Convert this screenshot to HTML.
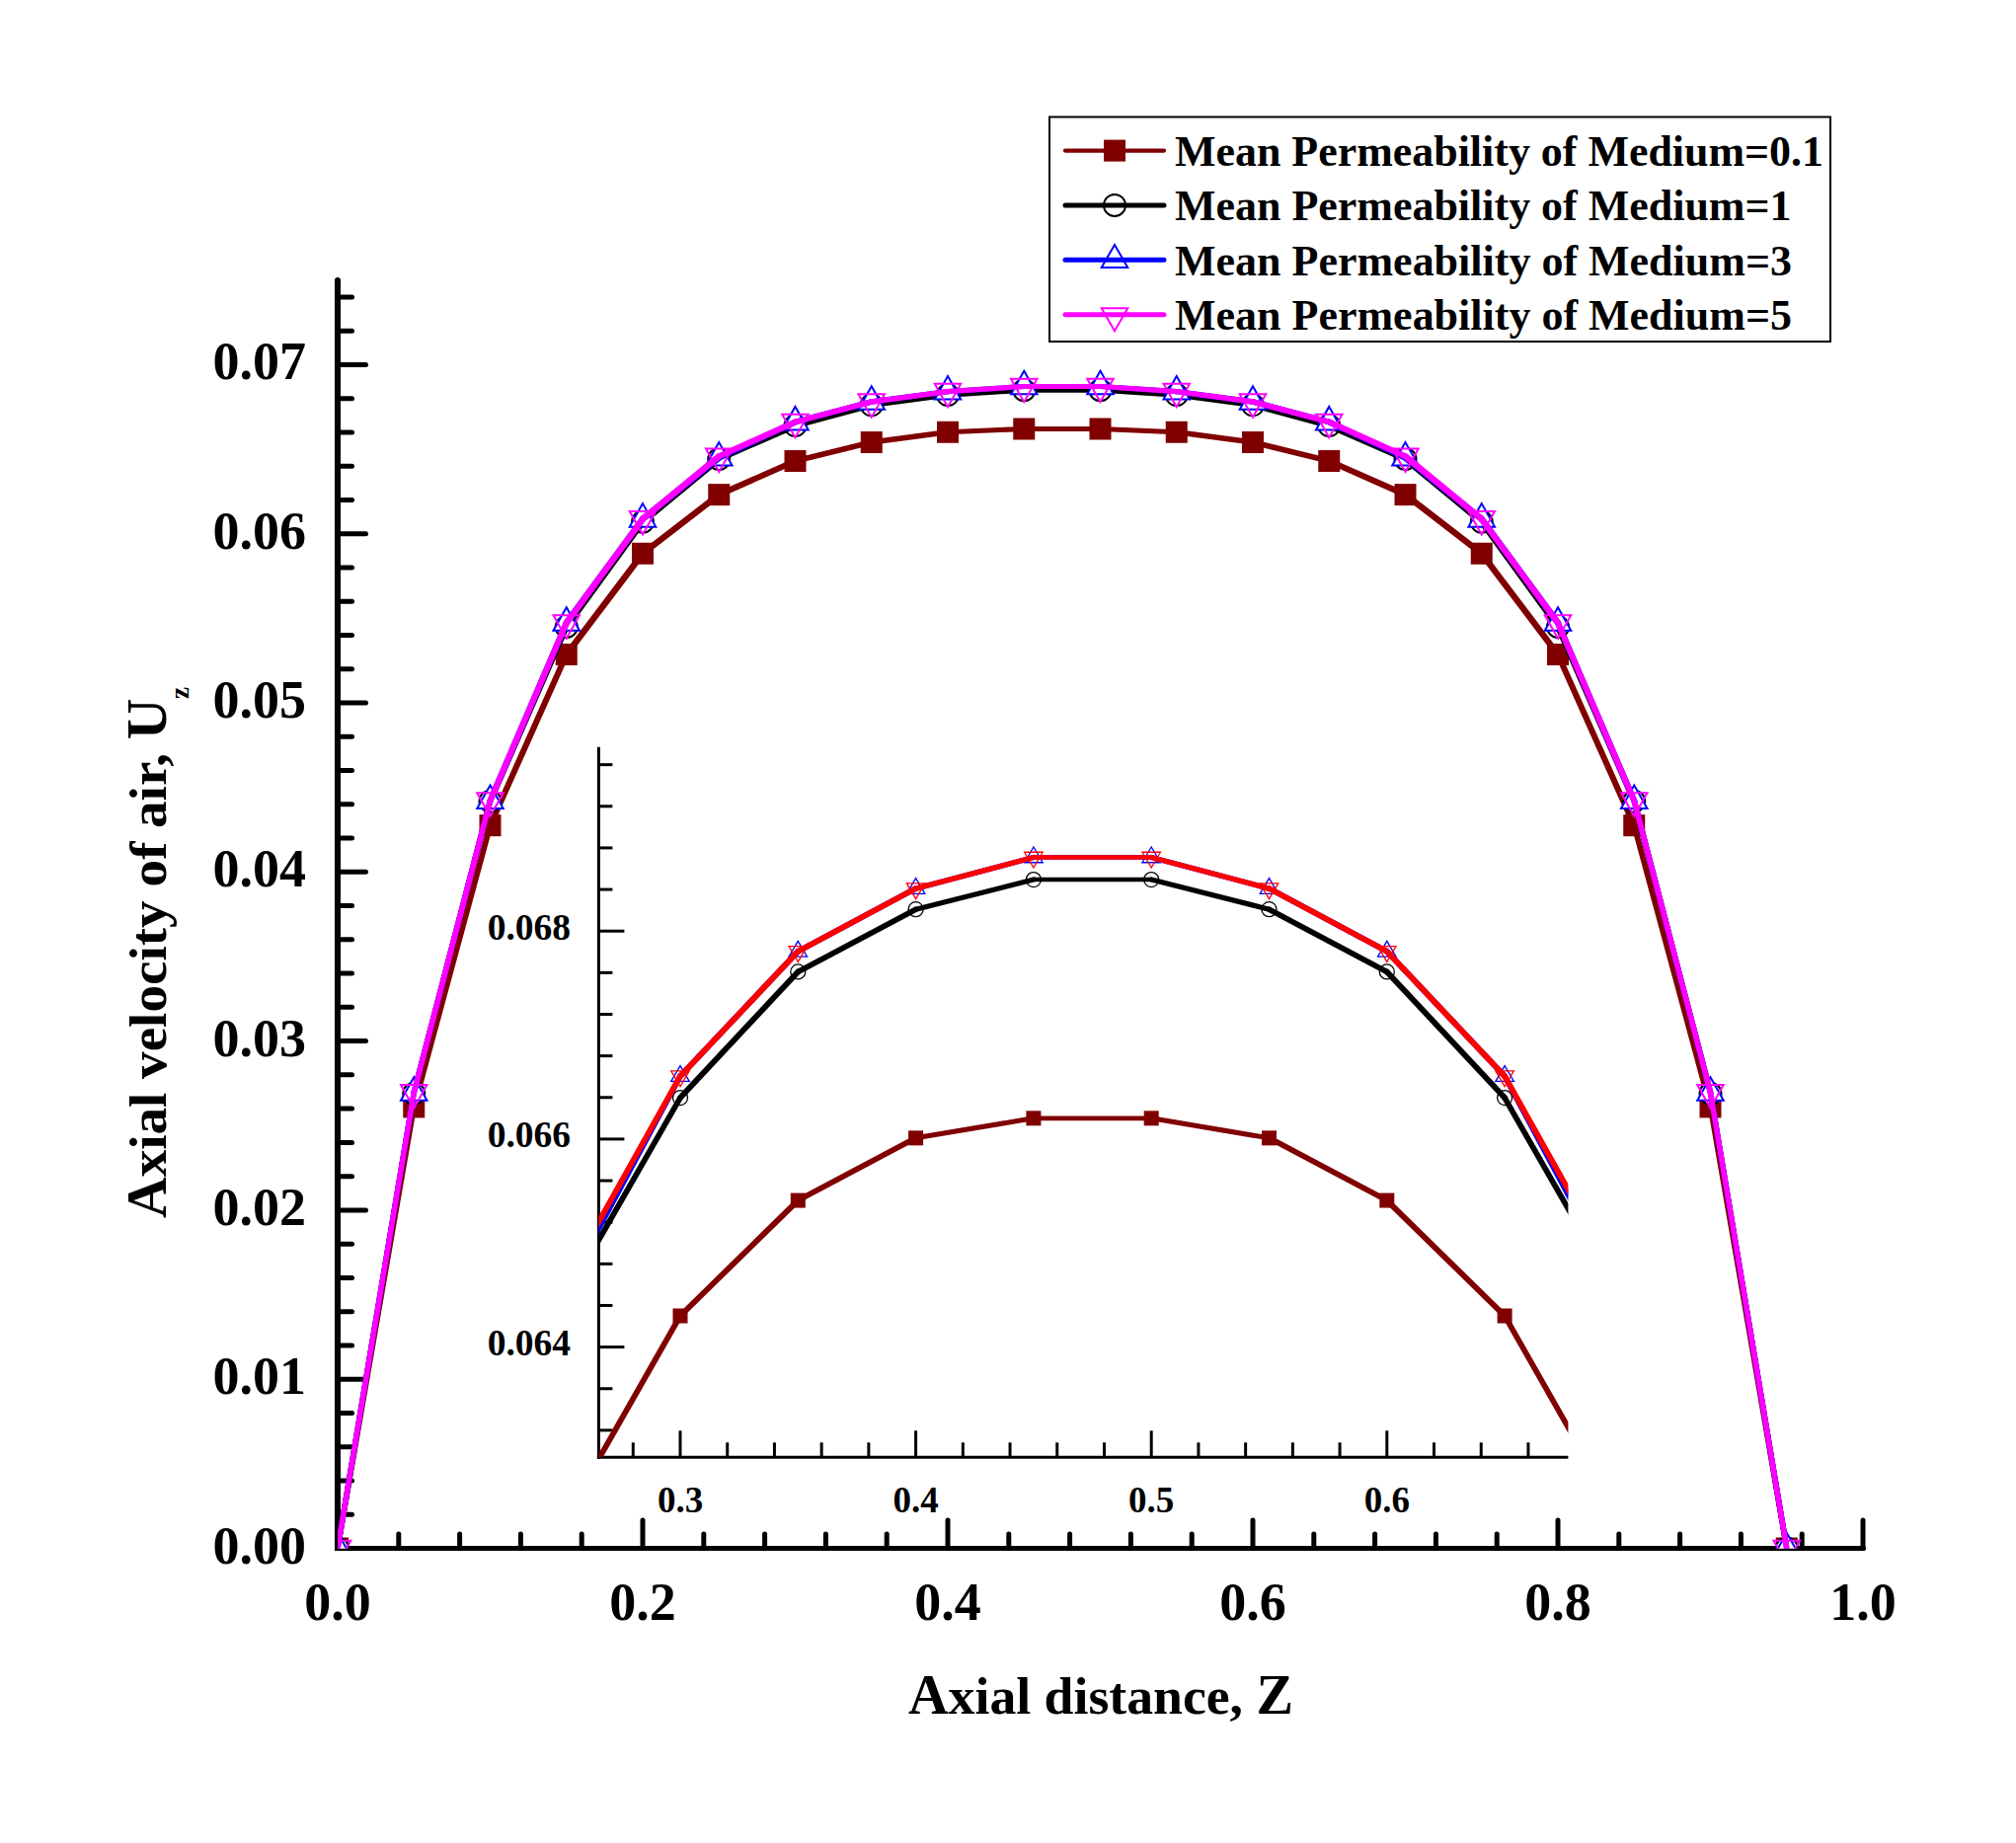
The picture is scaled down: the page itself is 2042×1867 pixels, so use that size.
<!DOCTYPE html>
<html><head><meta charset="utf-8"><title>Axial velocity chart</title>
<style>html,body{margin:0;padding:0;background:#fff;width:2042px;height:1867px;overflow:hidden}svg{display:block}</style>
</head><body>
<svg width="2042" height="1867" viewBox="0 0 2042 1867"><g stroke="#000" stroke-linecap="round">
<line x1="342.0" y1="284" x2="342.0" y2="1571.0" stroke-width="6" stroke-linecap="butt"/>
<circle cx="342.0" cy="284" r="3" fill="#000" stroke="none"/>
<line x1="342.0" y1="1568.5" x2="1887.5" y2="1568.5" stroke-width="5"/>
<line x1="342.0" y1="1568.50" x2="370.5" y2="1568.50" stroke-width="5"/>
<line x1="342.0" y1="1534.24" x2="356.5" y2="1534.24" stroke-width="5"/>
<line x1="342.0" y1="1499.98" x2="356.5" y2="1499.98" stroke-width="5"/>
<line x1="342.0" y1="1465.72" x2="356.5" y2="1465.72" stroke-width="5"/>
<line x1="342.0" y1="1431.46" x2="356.5" y2="1431.46" stroke-width="5"/>
<line x1="342.0" y1="1397.20" x2="370.5" y2="1397.20" stroke-width="5"/>
<line x1="342.0" y1="1362.94" x2="356.5" y2="1362.94" stroke-width="5"/>
<line x1="342.0" y1="1328.68" x2="356.5" y2="1328.68" stroke-width="5"/>
<line x1="342.0" y1="1294.42" x2="356.5" y2="1294.42" stroke-width="5"/>
<line x1="342.0" y1="1260.16" x2="356.5" y2="1260.16" stroke-width="5"/>
<line x1="342.0" y1="1225.90" x2="370.5" y2="1225.90" stroke-width="5"/>
<line x1="342.0" y1="1191.64" x2="356.5" y2="1191.64" stroke-width="5"/>
<line x1="342.0" y1="1157.38" x2="356.5" y2="1157.38" stroke-width="5"/>
<line x1="342.0" y1="1123.12" x2="356.5" y2="1123.12" stroke-width="5"/>
<line x1="342.0" y1="1088.86" x2="356.5" y2="1088.86" stroke-width="5"/>
<line x1="342.0" y1="1054.60" x2="370.5" y2="1054.60" stroke-width="5"/>
<line x1="342.0" y1="1020.34" x2="356.5" y2="1020.34" stroke-width="5"/>
<line x1="342.0" y1="986.08" x2="356.5" y2="986.08" stroke-width="5"/>
<line x1="342.0" y1="951.82" x2="356.5" y2="951.82" stroke-width="5"/>
<line x1="342.0" y1="917.56" x2="356.5" y2="917.56" stroke-width="5"/>
<line x1="342.0" y1="883.30" x2="370.5" y2="883.30" stroke-width="5"/>
<line x1="342.0" y1="849.04" x2="356.5" y2="849.04" stroke-width="5"/>
<line x1="342.0" y1="814.78" x2="356.5" y2="814.78" stroke-width="5"/>
<line x1="342.0" y1="780.52" x2="356.5" y2="780.52" stroke-width="5"/>
<line x1="342.0" y1="746.26" x2="356.5" y2="746.26" stroke-width="5"/>
<line x1="342.0" y1="712.00" x2="370.5" y2="712.00" stroke-width="5"/>
<line x1="342.0" y1="677.74" x2="356.5" y2="677.74" stroke-width="5"/>
<line x1="342.0" y1="643.48" x2="356.5" y2="643.48" stroke-width="5"/>
<line x1="342.0" y1="609.22" x2="356.5" y2="609.22" stroke-width="5"/>
<line x1="342.0" y1="574.96" x2="356.5" y2="574.96" stroke-width="5"/>
<line x1="342.0" y1="540.70" x2="370.5" y2="540.70" stroke-width="5"/>
<line x1="342.0" y1="506.44" x2="356.5" y2="506.44" stroke-width="5"/>
<line x1="342.0" y1="472.18" x2="356.5" y2="472.18" stroke-width="5"/>
<line x1="342.0" y1="437.92" x2="356.5" y2="437.92" stroke-width="5"/>
<line x1="342.0" y1="403.66" x2="356.5" y2="403.66" stroke-width="5"/>
<line x1="342.0" y1="369.40" x2="370.5" y2="369.40" stroke-width="5"/>
<line x1="342.0" y1="335.14" x2="356.5" y2="335.14" stroke-width="5"/>
<line x1="342.0" y1="300.88" x2="356.5" y2="300.88" stroke-width="5"/>
<line x1="342.00" y1="1568.5" x2="342.00" y2="1540.0" stroke-width="5"/>
<line x1="403.80" y1="1568.5" x2="403.80" y2="1554.0" stroke-width="5"/>
<line x1="465.60" y1="1568.5" x2="465.60" y2="1554.0" stroke-width="5"/>
<line x1="527.40" y1="1568.5" x2="527.40" y2="1554.0" stroke-width="5"/>
<line x1="589.20" y1="1568.5" x2="589.20" y2="1554.0" stroke-width="5"/>
<line x1="651.00" y1="1568.5" x2="651.00" y2="1540.0" stroke-width="5"/>
<line x1="712.80" y1="1568.5" x2="712.80" y2="1554.0" stroke-width="5"/>
<line x1="774.60" y1="1568.5" x2="774.60" y2="1554.0" stroke-width="5"/>
<line x1="836.40" y1="1568.5" x2="836.40" y2="1554.0" stroke-width="5"/>
<line x1="898.20" y1="1568.5" x2="898.20" y2="1554.0" stroke-width="5"/>
<line x1="960.00" y1="1568.5" x2="960.00" y2="1540.0" stroke-width="5"/>
<line x1="1021.80" y1="1568.5" x2="1021.80" y2="1554.0" stroke-width="5"/>
<line x1="1083.60" y1="1568.5" x2="1083.60" y2="1554.0" stroke-width="5"/>
<line x1="1145.40" y1="1568.5" x2="1145.40" y2="1554.0" stroke-width="5"/>
<line x1="1207.20" y1="1568.5" x2="1207.20" y2="1554.0" stroke-width="5"/>
<line x1="1269.00" y1="1568.5" x2="1269.00" y2="1540.0" stroke-width="5"/>
<line x1="1330.80" y1="1568.5" x2="1330.80" y2="1554.0" stroke-width="5"/>
<line x1="1392.60" y1="1568.5" x2="1392.60" y2="1554.0" stroke-width="5"/>
<line x1="1454.40" y1="1568.5" x2="1454.40" y2="1554.0" stroke-width="5"/>
<line x1="1516.20" y1="1568.5" x2="1516.20" y2="1554.0" stroke-width="5"/>
<line x1="1578.00" y1="1568.5" x2="1578.00" y2="1540.0" stroke-width="5"/>
<line x1="1639.80" y1="1568.5" x2="1639.80" y2="1554.0" stroke-width="5"/>
<line x1="1701.60" y1="1568.5" x2="1701.60" y2="1554.0" stroke-width="5"/>
<line x1="1763.40" y1="1568.5" x2="1763.40" y2="1554.0" stroke-width="5"/>
<line x1="1825.20" y1="1568.5" x2="1825.20" y2="1554.0" stroke-width="5"/>
<line x1="1887.00" y1="1568.5" x2="1887.00" y2="1540.0" stroke-width="5"/>
</g>
<g font-family='"Liberation Serif", serif' font-weight="bold" fill="#000">
<text x="310" y="1583.5" font-size="54" text-anchor="end">0.00</text>
<text x="310" y="1412.2" font-size="54" text-anchor="end">0.01</text>
<text x="310" y="1240.9" font-size="54" text-anchor="end">0.02</text>
<text x="310" y="1069.6" font-size="54" text-anchor="end">0.03</text>
<text x="310" y="898.3" font-size="54" text-anchor="end">0.04</text>
<text x="310" y="727.0" font-size="54" text-anchor="end">0.05</text>
<text x="310" y="555.7" font-size="54" text-anchor="end">0.06</text>
<text x="310" y="384.4" font-size="54" text-anchor="end">0.07</text>
<text x="342.0" y="1641" font-size="54" text-anchor="middle">0.0</text>
<text x="651.0" y="1641" font-size="54" text-anchor="middle">0.2</text>
<text x="960.0" y="1641" font-size="54" text-anchor="middle">0.4</text>
<text x="1269.0" y="1641" font-size="54" text-anchor="middle">0.6</text>
<text x="1578.0" y="1641" font-size="54" text-anchor="middle">0.8</text>
<text x="1887.0" y="1641" font-size="54" text-anchor="middle">1.0</text>
<text x="920" y="1736" font-size="53.5" textLength="390" lengthAdjust="spacingAndGlyphs"><tspan font-size="56">A</tspan>xial distance, <tspan font-size="56">Z</tspan></text>
<g transform="translate(168,1234) rotate(-90)"><text x="0" y="0" font-size="53.5" textLength="526.5" lengthAdjust="spacingAndGlyphs"><tspan font-size="56">A</tspan>xial velocity of air, <tspan font-size="56">U</tspan></text><text x="526" y="23" font-size="27">z</text></g>
</g>
<defs><clipPath id="mc"><rect x="342.0" y="0" width="1600" height="1568.5"/></clipPath></defs>
<g clip-path="url(#mc)">
<rect x="331.00" y="1557.50" width="22" height="22" fill="#800000"/>
<rect x="408.25" y="1110.41" width="22" height="22" fill="#800000"/>
<rect x="485.50" y="825.19" width="22" height="22" fill="#800000"/>
<rect x="562.75" y="652.01" width="22" height="22" fill="#800000"/>
<rect x="640.00" y="549.74" width="22" height="22" fill="#800000"/>
<rect x="717.25" y="490.13" width="22" height="22" fill="#800000"/>
<rect x="794.50" y="456.04" width="22" height="22" fill="#800000"/>
<rect x="871.75" y="437.03" width="22" height="22" fill="#800000"/>
<rect x="949.00" y="426.75" width="22" height="22" fill="#800000"/>
<rect x="1026.25" y="423.49" width="22" height="22" fill="#800000"/>
<rect x="1103.50" y="423.49" width="22" height="22" fill="#800000"/>
<rect x="1180.75" y="426.75" width="22" height="22" fill="#800000"/>
<rect x="1258.00" y="437.03" width="22" height="22" fill="#800000"/>
<rect x="1335.25" y="456.04" width="22" height="22" fill="#800000"/>
<rect x="1412.50" y="490.13" width="22" height="22" fill="#800000"/>
<rect x="1489.75" y="549.74" width="22" height="22" fill="#800000"/>
<rect x="1567.00" y="652.01" width="22" height="22" fill="#800000"/>
<rect x="1644.25" y="825.19" width="22" height="22" fill="#800000"/>
<rect x="1721.50" y="1110.41" width="22" height="22" fill="#800000"/>
<rect x="1798.75" y="1557.50" width="22" height="22" fill="#800000"/>
<g stroke="#800000" stroke-linecap="round" ><line x1="342.00" y1="1568.50" x2="419.25" y2="1121.41" stroke-width="5.53"/><line x1="419.25" y1="1121.41" x2="496.50" y2="836.19" stroke-width="5.77"/><line x1="496.50" y1="836.19" x2="573.75" y2="663.01" stroke-width="6.07"/><line x1="573.75" y1="663.01" x2="651.00" y2="560.74" stroke-width="6.33"/><line x1="651.00" y1="560.74" x2="728.25" y2="501.13" stroke-width="6.34"/><line x1="728.25" y1="501.13" x2="805.50" y2="467.04" stroke-width="6.07"/><line x1="805.50" y1="467.04" x2="882.75" y2="448.03" stroke-width="5.71"/><line x1="882.75" y1="448.03" x2="960.00" y2="437.75" stroke-width="5.42"/><line x1="960.00" y1="437.75" x2="1037.25" y2="434.49" stroke-width="5.14"/><line x1="1037.25" y1="434.49" x2="1114.50" y2="434.49" stroke-width="5.00"/><line x1="1114.50" y1="434.49" x2="1191.75" y2="437.75" stroke-width="5.14"/><line x1="1191.75" y1="437.75" x2="1269.00" y2="448.03" stroke-width="5.42"/><line x1="1269.00" y1="448.03" x2="1346.25" y2="467.04" stroke-width="5.71"/><line x1="1346.25" y1="467.04" x2="1423.50" y2="501.13" stroke-width="6.07"/><line x1="1423.50" y1="501.13" x2="1500.75" y2="560.74" stroke-width="6.34"/><line x1="1500.75" y1="560.74" x2="1578.00" y2="663.01" stroke-width="6.33"/><line x1="1578.00" y1="663.01" x2="1655.25" y2="836.19" stroke-width="6.07"/><line x1="1655.25" y1="836.19" x2="1732.50" y2="1121.41" stroke-width="5.77"/><line x1="1732.50" y1="1121.41" x2="1809.75" y2="1568.50" stroke-width="5.53"/></g>
<circle cx="342.00" cy="1568.50" r="11" fill="#fff" stroke="#000" stroke-width="2"/>
<circle cx="419.25" cy="1107.70" r="11" fill="#fff" stroke="#000" stroke-width="2"/>
<circle cx="496.50" cy="811.70" r="11" fill="#fff" stroke="#000" stroke-width="2"/>
<circle cx="573.75" cy="634.91" r="11" fill="#fff" stroke="#000" stroke-width="2"/>
<circle cx="651.00" cy="528.71" r="11" fill="#fff" stroke="#000" stroke-width="2"/>
<circle cx="728.25" cy="464.99" r="11" fill="#fff" stroke="#000" stroke-width="2"/>
<circle cx="805.50" cy="431.12" r="11" fill="#fff" stroke="#000" stroke-width="2"/>
<circle cx="882.75" cy="410.36" r="11" fill="#fff" stroke="#000" stroke-width="2"/>
<circle cx="960.00" cy="400.08" r="11" fill="#fff" stroke="#000" stroke-width="2"/>
<circle cx="1037.25" cy="395.18" r="11" fill="#fff" stroke="#000" stroke-width="2"/>
<circle cx="1114.50" cy="395.18" r="11" fill="#fff" stroke="#000" stroke-width="2"/>
<circle cx="1191.75" cy="400.08" r="11" fill="#fff" stroke="#000" stroke-width="2"/>
<circle cx="1269.00" cy="410.36" r="11" fill="#fff" stroke="#000" stroke-width="2"/>
<circle cx="1346.25" cy="431.12" r="11" fill="#fff" stroke="#000" stroke-width="2"/>
<circle cx="1423.50" cy="464.99" r="11" fill="#fff" stroke="#000" stroke-width="2"/>
<circle cx="1500.75" cy="528.71" r="11" fill="#fff" stroke="#000" stroke-width="2"/>
<circle cx="1578.00" cy="634.91" r="11" fill="#fff" stroke="#000" stroke-width="2"/>
<circle cx="1655.25" cy="811.70" r="11" fill="#fff" stroke="#000" stroke-width="2"/>
<circle cx="1732.50" cy="1107.70" r="11" fill="#fff" stroke="#000" stroke-width="2"/>
<circle cx="1809.75" cy="1568.50" r="11" fill="#fff" stroke="#000" stroke-width="2"/>
<g stroke="#000" stroke-linecap="round" ><line x1="342.00" y1="1568.50" x2="419.25" y2="1107.70" stroke-width="5.52"/><line x1="419.25" y1="1107.70" x2="496.50" y2="811.70" stroke-width="5.75"/><line x1="496.50" y1="811.70" x2="573.75" y2="634.91" stroke-width="6.06"/><line x1="573.75" y1="634.91" x2="651.00" y2="528.71" stroke-width="6.32"/><line x1="651.00" y1="528.71" x2="728.25" y2="464.99" stroke-width="6.35"/><line x1="728.25" y1="464.99" x2="805.50" y2="431.12" stroke-width="6.06"/><line x1="805.50" y1="431.12" x2="882.75" y2="410.36" stroke-width="5.76"/><line x1="882.75" y1="410.36" x2="960.00" y2="400.08" stroke-width="5.42"/><line x1="960.00" y1="400.08" x2="1037.25" y2="395.18" stroke-width="5.21"/><line x1="1037.25" y1="395.18" x2="1114.50" y2="395.18" stroke-width="5.00"/><line x1="1114.50" y1="395.18" x2="1191.75" y2="400.08" stroke-width="5.21"/><line x1="1191.75" y1="400.08" x2="1269.00" y2="410.36" stroke-width="5.42"/><line x1="1269.00" y1="410.36" x2="1346.25" y2="431.12" stroke-width="5.76"/><line x1="1346.25" y1="431.12" x2="1423.50" y2="464.99" stroke-width="6.06"/><line x1="1423.50" y1="464.99" x2="1500.75" y2="528.71" stroke-width="6.35"/><line x1="1500.75" y1="528.71" x2="1578.00" y2="634.91" stroke-width="6.32"/><line x1="1578.00" y1="634.91" x2="1655.25" y2="811.70" stroke-width="6.06"/><line x1="1655.25" y1="811.70" x2="1732.50" y2="1107.70" stroke-width="5.75"/><line x1="1732.50" y1="1107.70" x2="1809.75" y2="1568.50" stroke-width="5.52"/></g>
<path d="M342.00 1552.83L355.25 1576.33L328.75 1576.33Z" fill="#fff" stroke="#0000ff" stroke-width="2" stroke-linejoin="miter"/>
<path d="M419.25 1091.18L432.50 1114.68L406.00 1114.68Z" fill="#fff" stroke="#0000ff" stroke-width="2" stroke-linejoin="miter"/>
<path d="M496.50 795.52L509.75 819.02L483.25 819.02Z" fill="#fff" stroke="#0000ff" stroke-width="2" stroke-linejoin="miter"/>
<path d="M573.75 615.31L587.00 638.81L560.50 638.81Z" fill="#fff" stroke="#0000ff" stroke-width="2" stroke-linejoin="miter"/>
<path d="M651.00 510.13L664.25 533.63L637.75 533.63Z" fill="#fff" stroke="#0000ff" stroke-width="2" stroke-linejoin="miter"/>
<path d="M728.25 448.12L741.50 471.62L715.00 471.62Z" fill="#fff" stroke="#0000ff" stroke-width="2" stroke-linejoin="miter"/>
<path d="M805.50 411.89L818.75 435.39L792.25 435.39Z" fill="#fff" stroke="#0000ff" stroke-width="2" stroke-linejoin="miter"/>
<path d="M882.75 391.35L896.00 414.85L869.50 414.85Z" fill="#fff" stroke="#0000ff" stroke-width="2" stroke-linejoin="miter"/>
<path d="M960.00 380.99L973.25 404.49L946.75 404.49Z" fill="#fff" stroke="#0000ff" stroke-width="2" stroke-linejoin="miter"/>
<path d="M1037.25 375.85L1050.50 399.35L1024.00 399.35Z" fill="#fff" stroke="#0000ff" stroke-width="2" stroke-linejoin="miter"/>
<path d="M1114.50 375.85L1127.75 399.35L1101.25 399.35Z" fill="#fff" stroke="#0000ff" stroke-width="2" stroke-linejoin="miter"/>
<path d="M1191.75 380.99L1205.00 404.49L1178.50 404.49Z" fill="#fff" stroke="#0000ff" stroke-width="2" stroke-linejoin="miter"/>
<path d="M1269.00 391.35L1282.25 414.85L1255.75 414.85Z" fill="#fff" stroke="#0000ff" stroke-width="2" stroke-linejoin="miter"/>
<path d="M1346.25 411.89L1359.50 435.39L1333.00 435.39Z" fill="#fff" stroke="#0000ff" stroke-width="2" stroke-linejoin="miter"/>
<path d="M1423.50 448.12L1436.75 471.62L1410.25 471.62Z" fill="#fff" stroke="#0000ff" stroke-width="2" stroke-linejoin="miter"/>
<path d="M1500.75 510.13L1514.00 533.63L1487.50 533.63Z" fill="#fff" stroke="#0000ff" stroke-width="2" stroke-linejoin="miter"/>
<path d="M1578.00 615.31L1591.25 638.81L1564.75 638.81Z" fill="#fff" stroke="#0000ff" stroke-width="2" stroke-linejoin="miter"/>
<path d="M1655.25 795.52L1668.50 819.02L1642.00 819.02Z" fill="#fff" stroke="#0000ff" stroke-width="2" stroke-linejoin="miter"/>
<path d="M1732.50 1091.18L1745.75 1114.68L1719.25 1114.68Z" fill="#fff" stroke="#0000ff" stroke-width="2" stroke-linejoin="miter"/>
<path d="M1809.75 1552.83L1823.00 1576.33L1796.50 1576.33Z" fill="#fff" stroke="#0000ff" stroke-width="2" stroke-linejoin="miter"/>
<g stroke="#0000ff" stroke-linecap="round" ><line x1="342.00" y1="1568.50" x2="419.25" y2="1106.85" stroke-width="5.52"/><line x1="419.25" y1="1106.85" x2="496.50" y2="811.18" stroke-width="5.75"/><line x1="496.50" y1="811.18" x2="573.75" y2="630.98" stroke-width="6.05"/><line x1="573.75" y1="630.98" x2="651.00" y2="525.80" stroke-width="6.32"/><line x1="651.00" y1="525.80" x2="728.25" y2="463.79" stroke-width="6.35"/><line x1="728.25" y1="463.79" x2="805.50" y2="427.56" stroke-width="6.10"/><line x1="805.50" y1="427.56" x2="882.75" y2="407.02" stroke-width="5.76"/><line x1="882.75" y1="407.02" x2="960.00" y2="396.65" stroke-width="5.43"/><line x1="960.00" y1="396.65" x2="1037.25" y2="391.51" stroke-width="5.22"/><line x1="1037.25" y1="391.51" x2="1114.50" y2="391.51" stroke-width="5.00"/><line x1="1114.50" y1="391.51" x2="1191.75" y2="396.65" stroke-width="5.22"/><line x1="1191.75" y1="396.65" x2="1269.00" y2="407.02" stroke-width="5.43"/><line x1="1269.00" y1="407.02" x2="1346.25" y2="427.56" stroke-width="5.76"/><line x1="1346.25" y1="427.56" x2="1423.50" y2="463.79" stroke-width="6.10"/><line x1="1423.50" y1="463.79" x2="1500.75" y2="525.80" stroke-width="6.35"/><line x1="1500.75" y1="525.80" x2="1578.00" y2="630.98" stroke-width="6.32"/><line x1="1578.00" y1="630.98" x2="1655.25" y2="811.18" stroke-width="6.05"/><line x1="1655.25" y1="811.18" x2="1732.50" y2="1106.85" stroke-width="5.75"/><line x1="1732.50" y1="1106.85" x2="1809.75" y2="1568.50" stroke-width="5.52"/></g>
<path d="M328.75 1560.67L355.25 1560.67L342.00 1584.17Z" fill="none" stroke="#ff00ff" stroke-width="2" stroke-linejoin="miter"/>
<path d="M406.00 1099.01L432.50 1099.01L419.25 1122.51Z" fill="none" stroke="#ff00ff" stroke-width="2" stroke-linejoin="miter"/>
<path d="M483.25 803.35L509.75 803.35L496.50 826.85Z" fill="none" stroke="#ff00ff" stroke-width="2" stroke-linejoin="miter"/>
<path d="M560.50 623.31L587.00 623.31L573.75 646.81Z" fill="none" stroke="#ff00ff" stroke-width="2" stroke-linejoin="miter"/>
<path d="M637.75 517.96L664.25 517.96L651.00 541.46Z" fill="none" stroke="#ff00ff" stroke-width="2" stroke-linejoin="miter"/>
<path d="M715.00 454.41L741.50 454.41L728.25 477.91Z" fill="none" stroke="#ff00ff" stroke-width="2" stroke-linejoin="miter"/>
<path d="M792.25 419.72L818.75 419.72L805.50 443.22Z" fill="none" stroke="#ff00ff" stroke-width="2" stroke-linejoin="miter"/>
<path d="M869.50 399.18L896.00 399.18L882.75 422.68Z" fill="none" stroke="#ff00ff" stroke-width="2" stroke-linejoin="miter"/>
<path d="M946.75 388.82L973.25 388.82L960.00 412.32Z" fill="none" stroke="#ff00ff" stroke-width="2" stroke-linejoin="miter"/>
<path d="M1024.00 383.68L1050.50 383.68L1037.25 407.18Z" fill="none" stroke="#ff00ff" stroke-width="2" stroke-linejoin="miter"/>
<path d="M1101.25 383.68L1127.75 383.68L1114.50 407.18Z" fill="none" stroke="#ff00ff" stroke-width="2" stroke-linejoin="miter"/>
<path d="M1178.50 388.82L1205.00 388.82L1191.75 412.32Z" fill="none" stroke="#ff00ff" stroke-width="2" stroke-linejoin="miter"/>
<path d="M1255.75 399.18L1282.25 399.18L1269.00 422.68Z" fill="none" stroke="#ff00ff" stroke-width="2" stroke-linejoin="miter"/>
<path d="M1333.00 419.72L1359.50 419.72L1346.25 443.22Z" fill="none" stroke="#ff00ff" stroke-width="2" stroke-linejoin="miter"/>
<path d="M1410.25 454.41L1436.75 454.41L1423.50 477.91Z" fill="none" stroke="#ff00ff" stroke-width="2" stroke-linejoin="miter"/>
<path d="M1487.50 517.96L1514.00 517.96L1500.75 541.46Z" fill="none" stroke="#ff00ff" stroke-width="2" stroke-linejoin="miter"/>
<path d="M1564.75 623.31L1591.25 623.31L1578.00 646.81Z" fill="none" stroke="#ff00ff" stroke-width="2" stroke-linejoin="miter"/>
<path d="M1642.00 803.35L1668.50 803.35L1655.25 826.85Z" fill="none" stroke="#ff00ff" stroke-width="2" stroke-linejoin="miter"/>
<path d="M1719.25 1099.01L1745.75 1099.01L1732.50 1122.51Z" fill="none" stroke="#ff00ff" stroke-width="2" stroke-linejoin="miter"/>
<path d="M1796.50 1560.67L1823.00 1560.67L1809.75 1584.17Z" fill="none" stroke="#ff00ff" stroke-width="2" stroke-linejoin="miter"/>
<g stroke="#ff00ff" stroke-linecap="round" ><line x1="342.00" y1="1568.50" x2="419.25" y2="1106.85" stroke-width="5.52"/><line x1="419.25" y1="1106.85" x2="496.50" y2="811.18" stroke-width="5.75"/><line x1="496.50" y1="811.18" x2="573.75" y2="631.15" stroke-width="6.05"/><line x1="573.75" y1="631.15" x2="651.00" y2="525.80" stroke-width="6.32"/><line x1="651.00" y1="525.80" x2="728.25" y2="462.24" stroke-width="6.35"/><line x1="728.25" y1="462.24" x2="805.50" y2="427.56" stroke-width="6.08"/><line x1="805.50" y1="427.56" x2="882.75" y2="407.02" stroke-width="5.76"/><line x1="882.75" y1="407.02" x2="960.00" y2="396.65" stroke-width="5.43"/><line x1="960.00" y1="396.65" x2="1037.25" y2="391.51" stroke-width="5.22"/><line x1="1037.25" y1="391.51" x2="1114.50" y2="391.51" stroke-width="5.00"/><line x1="1114.50" y1="391.51" x2="1191.75" y2="396.65" stroke-width="5.22"/><line x1="1191.75" y1="396.65" x2="1269.00" y2="407.02" stroke-width="5.43"/><line x1="1269.00" y1="407.02" x2="1346.25" y2="427.56" stroke-width="5.76"/><line x1="1346.25" y1="427.56" x2="1423.50" y2="462.24" stroke-width="6.08"/><line x1="1423.50" y1="462.24" x2="1500.75" y2="525.80" stroke-width="6.35"/><line x1="1500.75" y1="525.80" x2="1578.00" y2="631.15" stroke-width="6.32"/><line x1="1578.00" y1="631.15" x2="1655.25" y2="811.18" stroke-width="6.05"/><line x1="1655.25" y1="811.18" x2="1732.50" y2="1106.85" stroke-width="5.75"/><line x1="1732.50" y1="1106.85" x2="1809.75" y2="1568.50" stroke-width="5.52"/></g>
</g>
<g stroke="#000">
<line x1="606.4" y1="756.8" x2="606.4" y2="1477.8" stroke-width="3"/>
<line x1="604.9" y1="1476.3" x2="1588.4" y2="1476.3" stroke-width="3"/>
<line x1="606.4" y1="1448.88" x2="620.4" y2="1448.88" stroke-width="3"/>
<line x1="606.4" y1="1406.74" x2="620.4" y2="1406.74" stroke-width="3"/>
<line x1="606.4" y1="1364.60" x2="632.4" y2="1364.60" stroke-width="3"/>
<line x1="606.4" y1="1322.46" x2="620.4" y2="1322.46" stroke-width="3"/>
<line x1="606.4" y1="1280.32" x2="620.4" y2="1280.32" stroke-width="3"/>
<line x1="606.4" y1="1238.18" x2="620.4" y2="1238.18" stroke-width="3"/>
<line x1="606.4" y1="1196.04" x2="620.4" y2="1196.04" stroke-width="3"/>
<line x1="606.4" y1="1153.90" x2="632.4" y2="1153.90" stroke-width="3"/>
<line x1="606.4" y1="1111.76" x2="620.4" y2="1111.76" stroke-width="3"/>
<line x1="606.4" y1="1069.62" x2="620.4" y2="1069.62" stroke-width="3"/>
<line x1="606.4" y1="1027.48" x2="620.4" y2="1027.48" stroke-width="3"/>
<line x1="606.4" y1="985.34" x2="620.4" y2="985.34" stroke-width="3"/>
<line x1="606.4" y1="943.20" x2="632.4" y2="943.20" stroke-width="3"/>
<line x1="606.4" y1="901.06" x2="620.4" y2="901.06" stroke-width="3"/>
<line x1="606.4" y1="858.92" x2="620.4" y2="858.92" stroke-width="3"/>
<line x1="606.4" y1="816.78" x2="620.4" y2="816.78" stroke-width="3"/>
<line x1="606.4" y1="774.64" x2="620.4" y2="774.64" stroke-width="3"/>
<line x1="641.28" y1="1476.3" x2="641.28" y2="1461.3" stroke-width="3"/>
<line x1="689.00" y1="1476.3" x2="689.00" y2="1449.3" stroke-width="3"/>
<line x1="736.72" y1="1476.3" x2="736.72" y2="1461.3" stroke-width="3"/>
<line x1="784.44" y1="1476.3" x2="784.44" y2="1461.3" stroke-width="3"/>
<line x1="832.16" y1="1476.3" x2="832.16" y2="1461.3" stroke-width="3"/>
<line x1="879.88" y1="1476.3" x2="879.88" y2="1461.3" stroke-width="3"/>
<line x1="927.60" y1="1476.3" x2="927.60" y2="1449.3" stroke-width="3"/>
<line x1="975.32" y1="1476.3" x2="975.32" y2="1461.3" stroke-width="3"/>
<line x1="1023.04" y1="1476.3" x2="1023.04" y2="1461.3" stroke-width="3"/>
<line x1="1070.76" y1="1476.3" x2="1070.76" y2="1461.3" stroke-width="3"/>
<line x1="1118.48" y1="1476.3" x2="1118.48" y2="1461.3" stroke-width="3"/>
<line x1="1166.20" y1="1476.3" x2="1166.20" y2="1449.3" stroke-width="3"/>
<line x1="1213.92" y1="1476.3" x2="1213.92" y2="1461.3" stroke-width="3"/>
<line x1="1261.64" y1="1476.3" x2="1261.64" y2="1461.3" stroke-width="3"/>
<line x1="1309.36" y1="1476.3" x2="1309.36" y2="1461.3" stroke-width="3"/>
<line x1="1357.08" y1="1476.3" x2="1357.08" y2="1461.3" stroke-width="3"/>
<line x1="1404.80" y1="1476.3" x2="1404.80" y2="1449.3" stroke-width="3"/>
<line x1="1452.52" y1="1476.3" x2="1452.52" y2="1461.3" stroke-width="3"/>
<line x1="1500.24" y1="1476.3" x2="1500.24" y2="1461.3" stroke-width="3"/>
<line x1="1547.96" y1="1476.3" x2="1547.96" y2="1461.3" stroke-width="3"/>
</g>
<defs><clipPath id="ic"><rect x="606.4" y="756.8" width="982.0" height="719.5"/></clipPath></defs>
<g clip-path="url(#ic)">
<rect x="681.50" y="1325.50" width="15" height="15" fill="#800000"/>
<rect x="800.80" y="1208.56" width="15" height="15" fill="#800000"/>
<rect x="920.10" y="1145.35" width="15" height="15" fill="#800000"/>
<rect x="1039.40" y="1125.33" width="15" height="15" fill="#800000"/>
<rect x="1158.70" y="1125.33" width="15" height="15" fill="#800000"/>
<rect x="1278.00" y="1145.35" width="15" height="15" fill="#800000"/>
<rect x="1397.30" y="1208.56" width="15" height="15" fill="#800000"/>
<rect x="1516.60" y="1325.50" width="15" height="15" fill="#800000"/>
<g stroke="#800000" stroke-linecap="round" ><line x1="-26.80" y1="8107.00" x2="92.50" y2="5357.36" stroke-width="4.74"/><line x1="92.50" y1="5357.36" x2="211.80" y2="3603.29" stroke-width="4.81"/><line x1="211.80" y1="3603.29" x2="331.10" y2="2538.20" stroke-width="4.93"/><line x1="331.10" y1="2538.20" x2="450.40" y2="1909.26" stroke-width="5.13"/><line x1="450.40" y1="1909.26" x2="569.70" y2="1542.64" stroke-width="5.41"/><line x1="569.70" y1="1542.64" x2="689.00" y2="1333.00" stroke-width="5.72"/><line x1="689.00" y1="1333.00" x2="808.30" y2="1216.06" stroke-width="5.86"/><line x1="808.30" y1="1216.06" x2="927.60" y2="1152.85" stroke-width="5.68"/><line x1="927.60" y1="1152.85" x2="1046.90" y2="1132.83" stroke-width="5.08"/><line x1="1046.90" y1="1132.83" x2="1166.20" y2="1132.83" stroke-width="4.60"/><line x1="1166.20" y1="1132.83" x2="1285.50" y2="1152.85" stroke-width="5.08"/><line x1="1285.50" y1="1152.85" x2="1404.80" y2="1216.06" stroke-width="5.68"/><line x1="1404.80" y1="1216.06" x2="1524.10" y2="1333.00" stroke-width="5.86"/><line x1="1524.10" y1="1333.00" x2="1643.40" y2="1542.64" stroke-width="5.72"/><line x1="1643.40" y1="1542.64" x2="1762.70" y2="1909.26" stroke-width="5.41"/><line x1="1762.70" y1="1909.26" x2="1882.00" y2="2538.20" stroke-width="5.13"/><line x1="1882.00" y1="2538.20" x2="2001.30" y2="3603.29" stroke-width="4.93"/><line x1="2001.30" y1="3603.29" x2="2120.60" y2="5357.36" stroke-width="4.81"/><line x1="2120.60" y1="5357.36" x2="2239.90" y2="8107.00" stroke-width="4.74"/></g>
<circle cx="689.00" cy="1112.08" r="7.5" fill="#fff" stroke="#000" stroke-width="1.3"/>
<circle cx="808.30" cy="984.39" r="7.5" fill="#fff" stroke="#000" stroke-width="1.3"/>
<circle cx="927.60" cy="921.18" r="7.5" fill="#fff" stroke="#000" stroke-width="1.3"/>
<circle cx="1046.90" cy="891.05" r="7.5" fill="#fff" stroke="#000" stroke-width="1.3"/>
<circle cx="1166.20" cy="891.05" r="7.5" fill="#fff" stroke="#000" stroke-width="1.3"/>
<circle cx="1285.50" cy="921.18" r="7.5" fill="#fff" stroke="#000" stroke-width="1.3"/>
<circle cx="1404.80" cy="984.39" r="7.5" fill="#fff" stroke="#000" stroke-width="1.3"/>
<circle cx="1524.10" cy="1112.08" r="7.5" fill="#fff" stroke="#000" stroke-width="1.3"/>
<g stroke="#000" stroke-linecap="round" ><line x1="-26.80" y1="8107.00" x2="92.50" y2="5273.09" stroke-width="4.73"/><line x1="92.50" y1="5273.09" x2="211.80" y2="3452.64" stroke-width="4.80"/><line x1="211.80" y1="3452.64" x2="331.10" y2="2365.43" stroke-width="4.93"/><line x1="331.10" y1="2365.43" x2="450.40" y2="1712.26" stroke-width="5.11"/><line x1="450.40" y1="1712.26" x2="569.70" y2="1320.35" stroke-width="5.37"/><line x1="569.70" y1="1320.35" x2="689.00" y2="1112.08" stroke-width="5.72"/><line x1="689.00" y1="1112.08" x2="808.30" y2="984.39" stroke-width="5.86"/><line x1="808.30" y1="984.39" x2="927.60" y2="921.18" stroke-width="5.68"/><line x1="927.60" y1="921.18" x2="1046.90" y2="891.05" stroke-width="5.27"/><line x1="1046.90" y1="891.05" x2="1166.20" y2="891.05" stroke-width="4.60"/><line x1="1166.20" y1="891.05" x2="1285.50" y2="921.18" stroke-width="5.27"/><line x1="1285.50" y1="921.18" x2="1404.80" y2="984.39" stroke-width="5.68"/><line x1="1404.80" y1="984.39" x2="1524.10" y2="1112.08" stroke-width="5.86"/><line x1="1524.10" y1="1112.08" x2="1643.40" y2="1320.35" stroke-width="5.72"/><line x1="1643.40" y1="1320.35" x2="1762.70" y2="1712.26" stroke-width="5.37"/><line x1="1762.70" y1="1712.26" x2="1882.00" y2="2365.43" stroke-width="5.11"/><line x1="1882.00" y1="2365.43" x2="2001.30" y2="3452.64" stroke-width="4.93"/><line x1="2001.30" y1="3452.64" x2="2120.60" y2="5273.09" stroke-width="4.80"/><line x1="2120.60" y1="5273.09" x2="2239.90" y2="8107.00" stroke-width="4.73"/></g>
<path d="M689.00 1079.63L698.25 1095.43L679.75 1095.43Z" fill="#fff" stroke="#0000ff" stroke-width="1.3" stroke-linejoin="miter"/>
<path d="M808.30 953.32L817.55 969.12L799.05 969.12Z" fill="#fff" stroke="#0000ff" stroke-width="1.3" stroke-linejoin="miter"/>
<path d="M927.60 889.58L936.85 905.38L918.35 905.38Z" fill="#fff" stroke="#0000ff" stroke-width="1.3" stroke-linejoin="miter"/>
<path d="M1046.90 857.97L1056.15 873.77L1037.65 873.77Z" fill="#fff" stroke="#0000ff" stroke-width="1.3" stroke-linejoin="miter"/>
<path d="M1166.20 857.97L1175.45 873.77L1156.95 873.77Z" fill="#fff" stroke="#0000ff" stroke-width="1.3" stroke-linejoin="miter"/>
<path d="M1285.50 889.58L1294.75 905.38L1276.25 905.38Z" fill="#fff" stroke="#0000ff" stroke-width="1.3" stroke-linejoin="miter"/>
<path d="M1404.80 953.32L1414.05 969.12L1395.55 969.12Z" fill="#fff" stroke="#0000ff" stroke-width="1.3" stroke-linejoin="miter"/>
<path d="M1524.10 1079.63L1533.35 1095.43L1514.85 1095.43Z" fill="#fff" stroke="#0000ff" stroke-width="1.3" stroke-linejoin="miter"/>
<g stroke="#0000ff" stroke-linecap="round" ><line x1="-26.80" y1="8107.00" x2="92.50" y2="5267.82" stroke-width="4.73"/><line x1="92.50" y1="5267.82" x2="211.80" y2="3449.48" stroke-width="4.80"/><line x1="211.80" y1="3449.48" x2="331.10" y2="2341.19" stroke-width="4.92"/><line x1="331.10" y1="2341.19" x2="450.40" y2="1694.35" stroke-width="5.12"/><line x1="450.40" y1="1694.35" x2="569.70" y2="1312.98" stroke-width="5.39"/><line x1="569.70" y1="1312.98" x2="689.00" y2="1090.16" stroke-width="5.69"/><line x1="689.00" y1="1090.16" x2="808.30" y2="963.85" stroke-width="5.86"/><line x1="808.30" y1="963.85" x2="927.60" y2="900.11" stroke-width="5.68"/><line x1="927.60" y1="900.11" x2="1046.90" y2="868.51" stroke-width="5.30"/><line x1="1046.90" y1="868.51" x2="1166.20" y2="868.51" stroke-width="4.60"/><line x1="1166.20" y1="868.51" x2="1285.50" y2="900.11" stroke-width="5.30"/><line x1="1285.50" y1="900.11" x2="1404.80" y2="963.85" stroke-width="5.68"/><line x1="1404.80" y1="963.85" x2="1524.10" y2="1090.16" stroke-width="5.86"/><line x1="1524.10" y1="1090.16" x2="1643.40" y2="1312.98" stroke-width="5.69"/><line x1="1643.40" y1="1312.98" x2="1762.70" y2="1694.35" stroke-width="5.39"/><line x1="1762.70" y1="1694.35" x2="1882.00" y2="2341.19" stroke-width="5.12"/><line x1="1882.00" y1="2341.19" x2="2001.30" y2="3449.48" stroke-width="4.92"/><line x1="2001.30" y1="3449.48" x2="2120.60" y2="5267.82" stroke-width="4.80"/><line x1="2120.60" y1="5267.82" x2="2239.90" y2="8107.00" stroke-width="4.73"/></g>
<path d="M679.75 1084.90L698.25 1084.90L689.00 1100.70Z" fill="none" stroke="#ff0000" stroke-width="1.3" stroke-linejoin="miter"/>
<path d="M799.05 958.58L817.55 958.58L808.30 974.38Z" fill="none" stroke="#ff0000" stroke-width="1.3" stroke-linejoin="miter"/>
<path d="M918.35 894.85L936.85 894.85L927.60 910.65Z" fill="none" stroke="#ff0000" stroke-width="1.3" stroke-linejoin="miter"/>
<path d="M1037.65 863.24L1056.15 863.24L1046.90 879.04Z" fill="none" stroke="#ff0000" stroke-width="1.3" stroke-linejoin="miter"/>
<path d="M1156.95 863.24L1175.45 863.24L1166.20 879.04Z" fill="none" stroke="#ff0000" stroke-width="1.3" stroke-linejoin="miter"/>
<path d="M1276.25 894.85L1294.75 894.85L1285.50 910.65Z" fill="none" stroke="#ff0000" stroke-width="1.3" stroke-linejoin="miter"/>
<path d="M1395.55 958.58L1414.05 958.58L1404.80 974.38Z" fill="none" stroke="#ff0000" stroke-width="1.3" stroke-linejoin="miter"/>
<path d="M1514.85 1084.90L1533.35 1084.90L1524.10 1100.70Z" fill="none" stroke="#ff0000" stroke-width="1.3" stroke-linejoin="miter"/>
<g stroke="#ff0000" stroke-linecap="round" ><line x1="-26.80" y1="8107.00" x2="92.50" y2="5267.82" stroke-width="4.73"/><line x1="92.50" y1="5267.82" x2="211.80" y2="3449.48" stroke-width="4.80"/><line x1="211.80" y1="3449.48" x2="331.10" y2="2342.25" stroke-width="4.92"/><line x1="331.10" y1="2342.25" x2="450.40" y2="1694.35" stroke-width="5.12"/><line x1="450.40" y1="1694.35" x2="569.70" y2="1303.50" stroke-width="5.37"/><line x1="569.70" y1="1303.50" x2="689.00" y2="1090.16" stroke-width="5.71"/><line x1="689.00" y1="1090.16" x2="808.30" y2="963.85" stroke-width="5.86"/><line x1="808.30" y1="963.85" x2="927.60" y2="900.11" stroke-width="5.68"/><line x1="927.60" y1="900.11" x2="1046.90" y2="868.51" stroke-width="5.30"/><line x1="1046.90" y1="868.51" x2="1166.20" y2="868.51" stroke-width="4.60"/><line x1="1166.20" y1="868.51" x2="1285.50" y2="900.11" stroke-width="5.30"/><line x1="1285.50" y1="900.11" x2="1404.80" y2="963.85" stroke-width="5.68"/><line x1="1404.80" y1="963.85" x2="1524.10" y2="1090.16" stroke-width="5.86"/><line x1="1524.10" y1="1090.16" x2="1643.40" y2="1303.50" stroke-width="5.71"/><line x1="1643.40" y1="1303.50" x2="1762.70" y2="1694.35" stroke-width="5.37"/><line x1="1762.70" y1="1694.35" x2="1882.00" y2="2342.25" stroke-width="5.12"/><line x1="1882.00" y1="2342.25" x2="2001.30" y2="3449.48" stroke-width="4.92"/><line x1="2001.30" y1="3449.48" x2="2120.60" y2="5267.82" stroke-width="4.80"/><line x1="2120.60" y1="5267.82" x2="2239.90" y2="8107.00" stroke-width="4.73"/></g>
</g>
<g font-family='"Liberation Serif", serif' font-weight="bold" fill="#000">
<text x="578" y="1373.1" font-size="37.5" text-anchor="end">0.064</text>
<text x="578" y="1162.4" font-size="37.5" text-anchor="end">0.066</text>
<text x="578" y="951.7" font-size="37.5" text-anchor="end">0.068</text>
<text x="689.0" y="1532" font-size="37" text-anchor="middle">0.3</text>
<text x="927.6" y="1532" font-size="37" text-anchor="middle">0.4</text>
<text x="1166.2" y="1532" font-size="37" text-anchor="middle">0.5</text>
<text x="1404.8" y="1532" font-size="37" text-anchor="middle">0.6</text>
</g>
<rect x="1063" y="118.5" width="791" height="227.5" fill="none" stroke="#000" stroke-width="2"/>
<rect x="1118.00" y="141.60" width="22" height="22" fill="#800000"/>
<circle cx="1129.00" cy="207.90" r="11" fill="#fff" stroke="#000" stroke-width="2"/>
<path d="M1129.00 247.97L1142.25 270.97L1115.75 270.97Z" fill="#fff" stroke="#0000ff" stroke-width="2" stroke-linejoin="miter"/>
<path d="M1115.75 312.13L1142.25 312.13L1129.00 335.13Z" fill="none" stroke="#ff00ff" stroke-width="2" stroke-linejoin="miter"/>
<line x1="1079" y1="152.6" x2="1179" y2="152.6" stroke="#800000" stroke-width="4.3" stroke-linecap="round"/>
<text x="1190" y="168.1" font-family='"Liberation Serif", serif' font-weight="bold" font-size="44.5" textLength="657" lengthAdjust="spacingAndGlyphs">Mean Permeability of Medium=0.1</text>
<line x1="1079" y1="207.9" x2="1179" y2="207.9" stroke="#000" stroke-width="5" stroke-linecap="round"/>
<text x="1190" y="223.4" font-family='"Liberation Serif", serif' font-weight="bold" font-size="44.5" textLength="624.5" lengthAdjust="spacingAndGlyphs">Mean Permeability of Medium=1</text>
<line x1="1079" y1="263.3" x2="1179" y2="263.3" stroke="#0000ff" stroke-width="5" stroke-linecap="round"/>
<text x="1190" y="278.8" font-family='"Liberation Serif", serif' font-weight="bold" font-size="44.5" textLength="625" lengthAdjust="spacingAndGlyphs">Mean Permeability of Medium=3</text>
<line x1="1079" y1="318.8" x2="1179" y2="318.8" stroke="#ff00ff" stroke-width="5" stroke-linecap="round"/>
<text x="1190" y="334.3" font-family='"Liberation Serif", serif' font-weight="bold" font-size="44.5" textLength="625" lengthAdjust="spacingAndGlyphs">Mean Permeability of Medium=5</text></svg>
</body></html>
